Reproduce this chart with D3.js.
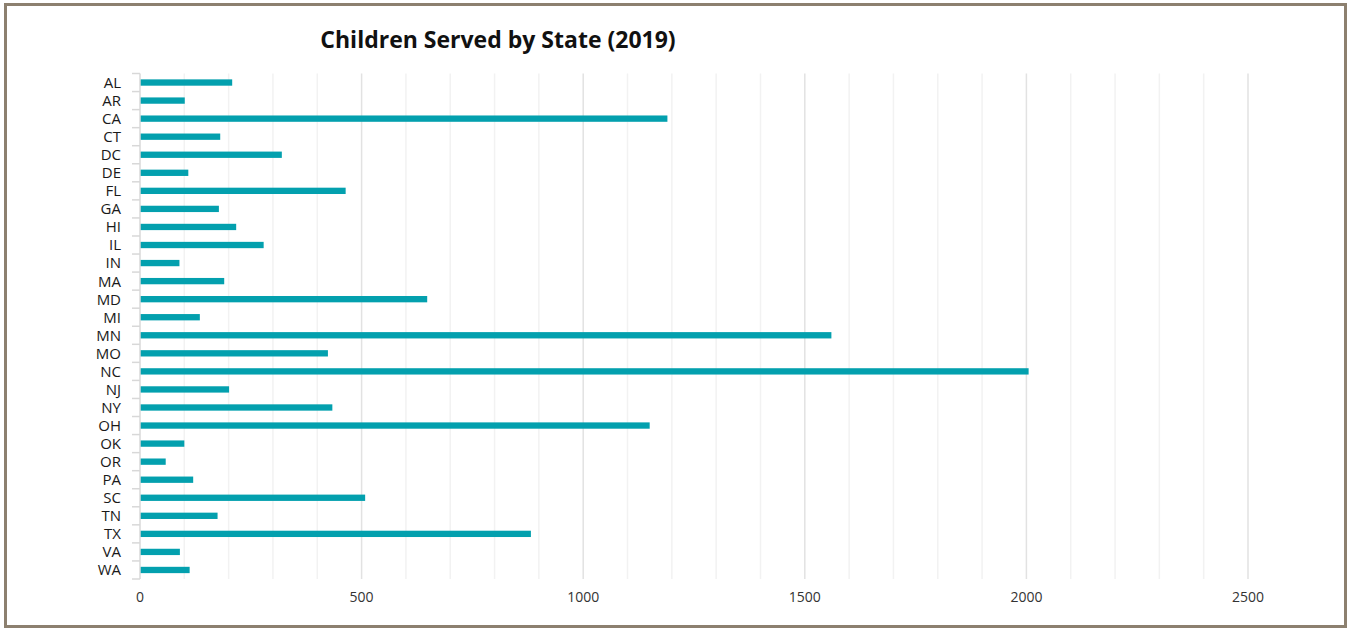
<!DOCTYPE html>
<html>
<head>
<meta charset="utf-8">
<script src="https://cdn.jsdelivr.net/npm/d3@7"></script>
<style>
  body { margin: 0; background: #fff; }
  svg { display: block; font-family: "Open Sans", "Noto Sans", sans-serif; }
</style>
</head>
<body>
<svg id="chart"></svg>
<script>
// Children served by state, 2019
const states = ['AL', 'AR', 'CA', 'CT', 'DC', 'DE', 'FL', 'GA', 'HI', 'IL', 'IN', 'MA', 'MD', 'MI',
  'MN', 'MO', 'NC', 'NJ', 'NY', 'OH', 'OK', 'OR', 'PA', 'SC', 'TN', 'TX', 'VA', 'WA'];
const served = [208, 101, 1190, 181, 320, 109, 464, 178, 217, 279, 89, 190, 648, 135,
  1560, 424, 2005, 201, 434, 1150, 100, 58, 120, 508, 175, 882, 90, 112];
const xTicks = [0, 500, 1000, 1500, 2000, 2500];

const width = 1350, height = 628;
const margin = { top: 73.5, right: 102, bottom: 49, left: 140 };

const svg = d3.select('#chart')
  .attr('width', width)
  .attr('height', height);

// outer frame
svg.append('rect')
  .attr('x', 5.5).attr('y', 4.5)
  .attr('width', 1340).attr('height', 622)
  .attr('fill', '#fff')
  .attr('stroke', '#8c806f')
  .attr('stroke-width', 3);

svg.append('text')
  .attr('x', 498).attr('y', 48)
  .attr('text-anchor', 'middle')
  .style('font-size', '23px')
  .style('font-weight', 700)
  .attr('fill', '#111')
  .text('Children Served by State (2019)');

const x = d3.scaleLinear()
  .domain([0, 2500])
  .range([margin.left, width - margin.right]);

const y = d3.scaleBand()
  .domain(states)
  .range([margin.top, height - margin.bottom])
  .paddingInner(0.65)
  .paddingOuter(0.325);

// gridlines, every 100, darker every 500
svg.append('g')
  .selectAll('line')
  .data(d3.range(100, 2501, 100))
  .join('line')
    .attr('x1', d => x(d)).attr('x2', d => x(d))
    .attr('y1', margin.top).attr('y2', height - margin.bottom)
    .attr('stroke', d => d % 500 === 0 ? '#e2e2e2' : '#f2f2f2')
    .attr('stroke-width', 1.5);

// bars
svg.append('g')
  .selectAll('rect')
  .data(states.map((s, i) => ({ state: s, value: served[i] })))
  .join('rect')
    .attr('x', x(0))
    .attr('y', d => y(d.state))
    .attr('width', d => x(d.value) - x(0))
    .attr('height', y.bandwidth())
    .attr('fill', '#03a0ae');

// y axis: line + ticks on band boundaries
const yAxis = svg.append('g');
yAxis.append('line')
  .attr('x1', margin.left).attr('x2', margin.left)
  .attr('y1', margin.top).attr('y2', height - margin.bottom)
  .attr('stroke', '#d8d8d8')
  .attr('stroke-width', 1.5);

const step = y.step();
yAxis.selectAll('line.tick')
  .data(d3.range(states.length + 1))
  .join('line')
    .attr('class', 'tick')
    .attr('x1', margin.left - 8).attr('x2', margin.left)
    .attr('y1', i => margin.top + i * step)
    .attr('y2', i => margin.top + i * step)
    .attr('stroke', '#d8d8d8')
    .attr('stroke-width', 1.5);

yAxis.selectAll('text')
  .data(states)
  .join('text')
    .attr('x', margin.left - 19)
    .attr('y', d => y(d) + y.bandwidth() / 2)
    .attr('dy', '0.36em')
    .attr('text-anchor', 'end')
    .style('font-size', '15px')
    .attr('fill', '#1a1a1a')
    .text(d => d);

// x axis labels
svg.append('g')
  .selectAll('text')
  .data(xTicks)
  .join('text')
    .attr('x', d => x(d))
    .attr('y', 602)
    .attr('text-anchor', 'middle')
    .style('font-size', '14px')
    .attr('fill', '#333')
    .text(d => d);
</script>
</body>
</html>
